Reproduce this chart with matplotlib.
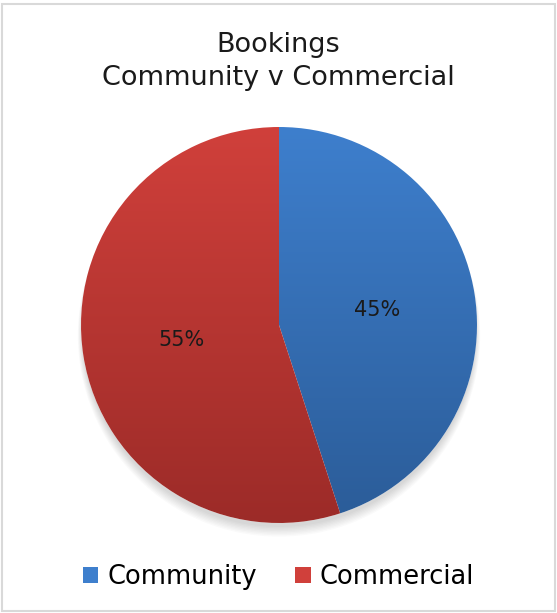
import numpy as np
import matplotlib.pyplot as plt
from matplotlib.patches import Rectangle, Circle
from matplotlib.colors import LinearSegmentedColormap

labels = ["Community", "Commercial"]
shares = [45, 55]
top_colors = ["#3e7fcd", "#d0403b"]
bottom_colors = ["#2b5c98", "#9c2b28"]

plt.rcParams['font.family'] = ['DejaVu Sans']

fig = plt.figure(figsize=(5.57, 6.13), dpi=100)
fig.patches.append(Rectangle((0.004, 0.004), 0.992, 0.99, transform=fig.transFigure,
                             fill=False, edgecolor="#d9d9d9", linewidth=1.5))

fig.text(0.5, 0.927, "Bookings", ha="center", va="center", fontsize=19.5, color="#1a1a1a")
fig.text(0.5, 0.872, "Community v Commercial", ha="center", va="center", fontsize=19.5,
         color="#1a1a1a")

ax = fig.add_axes([81 / 557, 90 / 613, 396 / 557, 396 / 613])
ax.set_xlim(-1.0, 1.0)
ax.set_ylim(-1.0, 1.0)
ax.axis("off")

# soft shadow under the pie, mostly along the bottom edge
for k in range(8):
    ax.add_patch(Circle((0, -0.025 - k * 0.004), 0.995 + k * 0.003, facecolor="black",
                        alpha=0.02, edgecolor="none", zorder=0, clip_on=False))
ax.add_patch(Circle((0, 0), 1.0, facecolor="white", edgecolor="none", zorder=0.5,
                    clip_on=False))

wedges, texts, autotexts = ax.pie(shares, startangle=90, counterclock=False,
                                  autopct="%d%%", pctdistance=0.5, radius=1.0,
                                  textprops=dict(fontsize=15, color="#1a1a1a"),
                                  wedgeprops=dict(linewidth=0))
ax.set_xlim(-1.0, 1.0)
ax.set_ylim(-1.0, 1.0)

# vertical gradient fill clipped to each wedge
grad = np.linspace(0, 1, 256).reshape(-1, 1)
for w, c_top, c_bot in zip(wedges, top_colors, bottom_colors):
    w.set_facecolor("none")
    cmap = LinearSegmentedColormap.from_list("g", [c_top, c_bot])
    im = ax.imshow(grad, cmap=cmap, extent=(-1, 1, -1, 1), origin="upper",
                   aspect="auto", zorder=1)
    im.set_clip_path(w)
for t in autotexts:
    t.set_zorder(3)

handles = [Rectangle((0, 0), 1, 1, facecolor=c) for c in top_colors]
fig.legend(handles, labels, loc="center", bbox_to_anchor=(0.5, 0.059), ncol=2,
           frameon=False, fontsize=18.5, handlelength=0.6, handleheight=0.6,
           handletextpad=0.35, columnspacing=1.5)

fig.savefig("out.png", dpi=100)
